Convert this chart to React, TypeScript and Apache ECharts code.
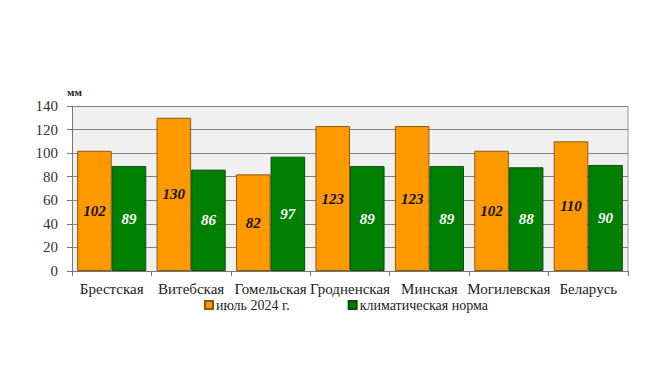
import React, { useEffect, useRef } from "react";
import * as echarts from "echarts";

const categories = ["Брестская", "Витебская", "Гомельская", "Гродненская", "Минская", "Могилевская", "Беларусь"];
const july2024 = [102, 130, 82, 123, 123, 102, 110];
const climateNorm = [89, 86, 97, 89, 89, 88, 90];
const seriesNames = ["июль 2024 г.", "климатическая норма"];

export default function App() {
  const ref = useRef<HTMLDivElement>(null);
  useEffect(() => {
    const chart = echarts.init(ref.current!, null, { renderer: "svg" });
    const font = "Liberation Serif";
    chart.setOption({
      animation: false,
      textStyle: { fontFamily: font },
      grid: { left: 64, right: 13, top: 98, bottom: 105, show: true, backgroundColor: "#f0f0f0", borderWidth: 0 },
      graphic: [
        { type: "text", left: 59, top: 78, style: { text: "мм", fontFamily: font, fontSize: 11, fontWeight: "bold", fill: "#222" } },
        { type: "line", shape: { x1: 620, y1: 98, x2: 620, y2: 263 }, style: { stroke: "#999", lineWidth: 1 } },
      ],
      legend: {
        top: 285,
        left: 191,
        itemWidth: 8,
        itemHeight: 8,
        itemGap: 58,
        icon: "rect",
        textStyle: { fontFamily: font, fontSize: 14, color: "#222", padding: [0, 0, 0, -2] },
        data: seriesNames,
      },
      xAxis: {
        type: "category",
        data: categories,
        axisLine: { lineStyle: { color: "#777", width: 1 } },
        axisTick: { show: true, length: 5, lineStyle: { color: "#777" } },
        axisLabel: { fontFamily: font, fontSize: 15, color: "#222", interval: 0, margin: 10 },
      },
      yAxis: {
        type: "value",
        min: 0,
        max: 140,
        interval: 20,
        axisLine: { show: true, lineStyle: { color: "#777", width: 1 } },
        axisTick: { show: true, length: 5, lineStyle: { color: "#777" } },
        axisLabel: { fontFamily: font, fontSize: 15, color: "#333", margin: 14 },
        splitLine: { lineStyle: { color: "#808080", width: 1 } },
      },
      series: [
        {
          name: seriesNames[0],
          type: "bar",
          data: july2024,
          barGap: "0%",
          barCategoryGap: "13%",
          itemStyle: { color: "#ff9900", borderColor: "#8a5a10", borderWidth: 1 },
          label: {
            show: true,
            position: "inside",
            fontFamily: font,
            fontSize: 15,
            fontStyle: "italic",
            fontWeight: "bold",
            color: "#111",
          },
        },
        {
          name: seriesNames[1],
          type: "bar",
          data: climateNorm,
          itemStyle: { color: "#008000", borderColor: "#0a4a0a", borderWidth: 1 },
          label: {
            show: true,
            position: "inside",
            fontFamily: font,
            fontSize: 15,
            fontStyle: "italic",
            fontWeight: "bold",
            color: "#ffffff",
          },
        },
      ],
    });
    return () => chart.dispose();
  }, []);
  return <div ref={ref} style={{ width: 633, height: 368 }} />;
}
